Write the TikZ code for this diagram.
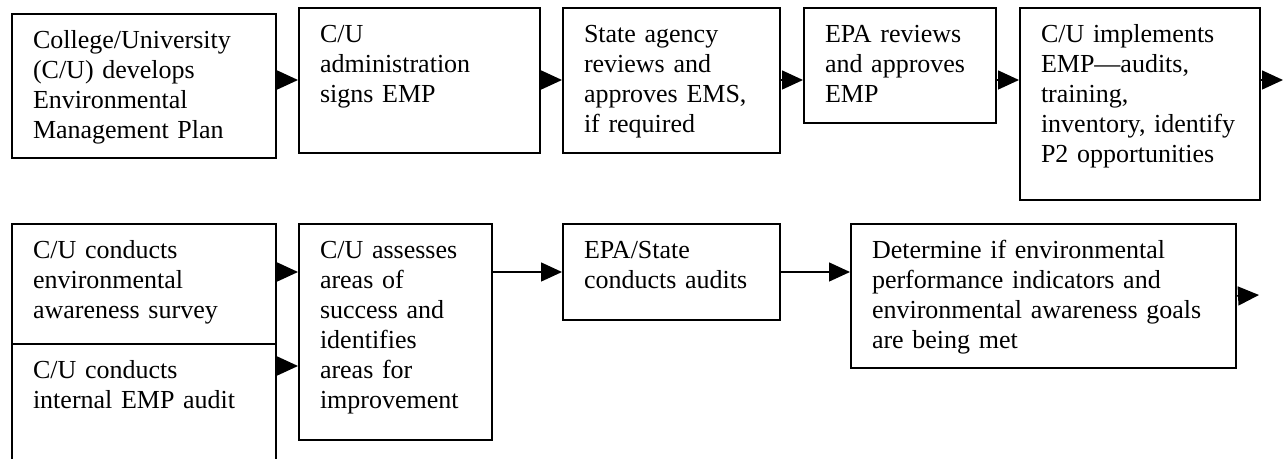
\documentclass[tikz,border=0pt]{standalone}
\usepackage{fontspec}
\setmainfont{Liberation Serif}
\usetikzlibrary{arrows.meta}

\tikzset{
  stepbox/.style={draw, line width=1.5pt, anchor=north west, align=left,
    inner xsep=15.75pt, inner ysep=0pt, text height=26.25pt,
    font=\fontsize{19.5}{22.5}\selectfont},
  flow/.style={-{Triangle[length=15.75pt,width=14.25pt]}, line width=1.1pt},
}

\begin{document}
\begin{tikzpicture}[x=0.75pt, y=-0.75pt]
    \useasboundingbox (0,0) rectangle (1283,459);
    \clip (0,0) rectangle (1283,459);

    % first row
    \node[stepbox, text width=166.5pt, text depth=81.75pt] (develop) at (11,13)
        {College/University\\(C/U) develops\\Environmental\\Management Plan};
    \node[stepbox, text width=149.25pt, text depth=82.5pt] (signs) at (298,7)
        {C/U\\administration\\signs EMP};
    \node[stepbox, text width=131.25pt, text depth=82.5pt] (stateok) at (562,7)
        {State agency\\reviews and\\approves EMS,\\if required};
    \node[stepbox, text width=112.5pt, text depth=60pt] (epaok) at (803,7)
        {EPA reviews\\and approves\\EMP};
    \node[stepbox, text width=148.5pt, text depth=117.75pt] (implement) at (1019,7)
        {C/U implements\\EMP---audits,\\training,\\inventory, identify\\P2 opportunities};

    % second row
    \node[stepbox, text width=166.5pt, text depth=63.75pt] (survey) at (11,223)
        {C/U conducts\\environmental\\awareness survey};
    \node[stepbox, text width=166.5pt, text depth=71.25pt] (audit) at (11,343)
        {C/U conducts\\internal EMP audit};
    \node[stepbox, text width=113.25pt, text depth=135.75pt] (assess) at (298,223)
        {C/U assesses\\areas of\\success and\\identifies\\areas for\\improvement};
    \node[stepbox, text width=131.25pt, text depth=45.75pt] (epaaudit) at (562,223)
        {EPA/State\\conducts audits};
    \node[stepbox, text width=257.25pt, text depth=81.75pt] (determine) at (850,223)
        {Determine if environmental\\performance indicators and\\environmental awareness goals\\are being met};

    \coordinate (row1) at (0,80);
    \coordinate (row2) at (0,272);
    \coordinate (row3) at (0,366);
    \coordinate (out1) at (1283,80);
    \coordinate (out2) at (1259,295);

    \draw[flow] (develop.east |- row1) -- (signs.west |- row1);
    \draw[flow] (signs.east |- row1) -- (stateok.west |- row1);
    \draw[flow] (stateok.east |- row1) -- (epaok.west |- row1);
    \draw[flow] (epaok.east |- row1) -- (implement.west |- row1);
    \draw[flow] (implement.east |- row1) -- (out1);

    \draw[flow] (survey.east |- row2) -- (assess.west |- row2);
    \draw[flow] (audit.east |- row3) -- (assess.west |- row3);
    \draw[flow] (assess.east |- row2) -- (epaaudit.west |- row2);
    \draw[flow] (epaaudit.east |- row2) -- (determine.west |- row2);
    \draw[flow] (determine.east) -- (out2);
\end{tikzpicture}
\end{document}
